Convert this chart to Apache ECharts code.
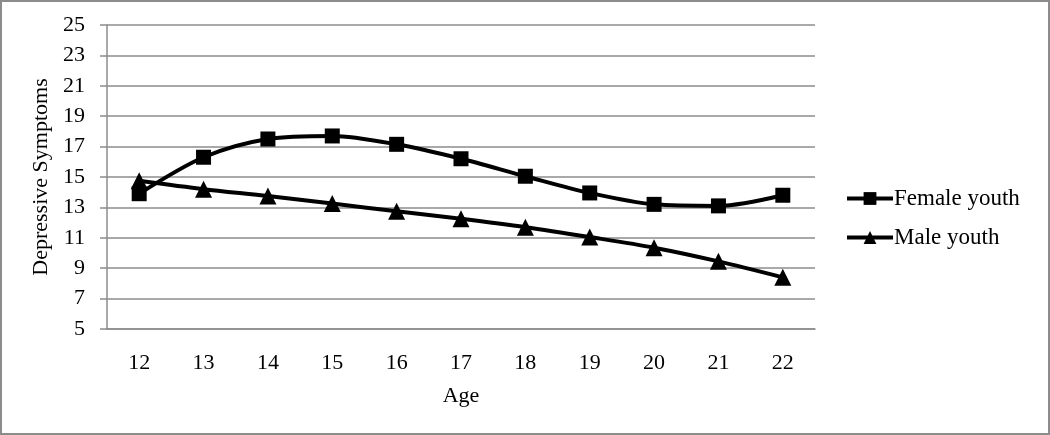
<!DOCTYPE html>
<html><head><meta charset="utf-8">
<script src="https://cdn.jsdelivr.net/npm/echarts@6/dist/echarts.min.js"></script>
<style>html,body{margin:0;padding:0;background:#fff}#c{width:1050px;height:435px;box-sizing:border-box;border:2px solid #8c8c8c}</style>
</head><body><div id="c"></div>
<script>
const ages = ['12','13','14','15','16','17','18','19','20','21','22'];
const female = [13.9,16.3,17.5,17.7,17.15,16.2,15.05,13.95,13.2,13.1,13.8];
const male = [14.75,14.2,13.75,13.25,12.75,12.25,11.7,11.05,10.35,9.45,8.4];
const chart = echarts.init(document.getElementById('c'), null, {renderer:'canvas'});
const font = 'Liberation Serif';
chart.setOption({
  animation:false,
  grid:{left:105,top:23,width:708,height:304},
  xAxis:{type:'category',data:ages,boundaryGap:true,
    name:'Age',nameLocation:'middle',nameGap:56,
    nameTextStyle:{fontFamily:font,fontSize:22,color:'#000'},
    axisLine:{lineStyle:{color:'#8c8c8c',width:1.5}},axisTick:{show:false},
    axisLabel:{fontFamily:font,fontSize:22,color:'#000',margin:23}},
  yAxis:{type:'value',min:5,max:25,interval:2,
    name:'Depressive Symptoms',nameLocation:'middle',nameGap:54,
    nameTextStyle:{fontFamily:font,fontSize:22,color:'#000'},
    axisLine:{show:true,lineStyle:{color:'#8c8c8c',width:1.5}},
    axisTick:{show:true,length:7,lineStyle:{color:'#8c8c8c',width:1.5}},
    splitLine:{lineStyle:{color:'#8c8c8c',width:1.5}},
    axisLabel:{fontFamily:font,fontSize:22,color:'#000',margin:22}},
  legend:{orient:'vertical',left:838,top:180,itemGap:16,itemWidth:46,itemHeight:16,
    lineStyle:{width:4},
    textStyle:{fontFamily:font,fontSize:23,color:'#000',padding:[0,0,0,-4]},
    data:['Female youth','Male youth']},
  series:[
    {name:'Female youth',type:'line',data:female,smooth:0.3,symbol:'rect',symbolSize:15,
      lineStyle:{color:'#000',width:4},itemStyle:{color:'#000'}},
    {name:'Male youth',type:'line',data:male,smooth:0.3,symbol:'triangle',symbolSize:17,
      lineStyle:{color:'#000',width:4},itemStyle:{color:'#000'}}
  ]
});
</script></body></html>
